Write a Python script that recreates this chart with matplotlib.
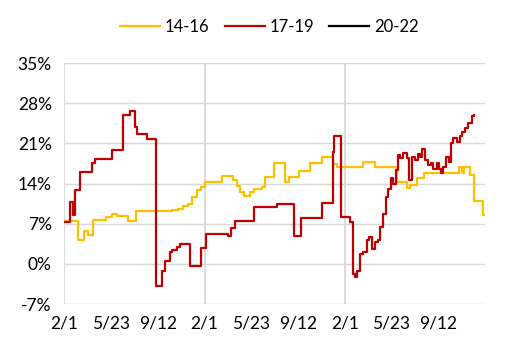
import numpy as np
import matplotlib
matplotlib.use("Agg")
import matplotlib.pyplot as plt

plt.rcParams['font.family'] = ['Lato', 'DejaVu Sans']

# trading-day index (252 per year) -> value (%), step changes
dias_1416 = [0, 25, 35, 42, 51, 75, 85, 94, 115, 129, 193, 205, 214, 223, 229, 238, 246,
             252, 283, 304, 310, 316, 322, 333, 340, 355, 361, 377, 397, 403, 421, 442,
             463, 482, 490, 537, 558, 598, 615, 621, 633, 647, 709, 715, 719, 729, 737,
             753, 755]
vals_1416 = [7.45, 4.1, 5.8, 5.0, 7.6, 8.2, 8.75, 8.35, 7.45, 9.15, 9.3, 9.6, 10.0, 10.5,
             11.7, 12.8, 13.4, 14.3, 15.3, 14.6, 13.6, 12.6, 11.8, 12.5, 13.1, 13.4, 15.05,
             17.6, 14.3, 15.05, 16.1, 17.6, 18.55, 17.4, 16.9, 17.7, 16.9, 14.3, 13.3, 13.8,
             14.9, 15.9, 16.8, 15.9, 16.8, 15.5, 11.0, 8.5, 8.5]

dias_1719 = [0, 10, 15, 19, 29, 49, 55, 85, 106, 118, 127, 131, 148, 164, 175, 181, 190,
             194, 203, 208, 226, 246, 254, 295, 299, 307, 340, 382, 412, 425, 463, 482,
             484, 497, 514, 518, 523, 526, 532, 537, 544, 548, 553, 558, 564, 567, 573,
             578, 582, 587, 591, 596, 599, 603, 609, 615, 620, 624, 630, 635, 639, 643,
             648, 654, 659, 663, 669, 674, 677, 681, 686, 691, 695, 699, 705, 711, 715,
             720, 726, 732, 737]
vals_1719 = [7.3, 10.8, 8.5, 12.8, 16.0, 17.5, 18.3, 19.8, 26.0, 26.7, 23.9, 22.6, 21.7,
             -3.8, -1.3, 0.5, 2.0, 2.5, 2.9, 3.4, -0.4, 2.8, 5.25, 4.8, 6.2, 7.4, 9.9, 10.5,
             4.8, 8.05, 10.6, 19.5, 22.2, 8.2, 7.3, -1.75, -2.3, -1.2, 1.75, 2.0, 4.1, 4.7,
             2.6, 3.8, 4.1, 6.4, 8.75, 11.7, 13.1, 14.9, 14.0, 16.3, 19.0, 18.4, 19.4, 18.4,
             14.7, 18.7, 18.1, 19.1, 18.7, 20.1, 18.1, 17.2, 17.5, 16.6, 17.5, 16.6, 15.75,
             16.9, 18.7, 17.8, 21.0, 21.9, 21.3, 22.2, 23.0, 23.6, 24.5, 25.8, 26.0]

# 20-22 has no data in the chart
dias_2022 = []
vals_2022 = []

tick_pos = [0, 84, 168, 252, 336, 420, 504, 588, 672]
tick_lab = ["2/1", "5/23", "9/12", "2/1", "5/23", "9/12", "2/1", "5/23", "9/12"]
y_ticks = [-7, 0, 7, 14, 21, 28, 35]

fig = plt.figure(figsize=(5.16, 3.48), dpi=100)
ax = fig.add_axes([0.1246, 0.1264, 0.8154, 0.6925])

gris = "#d9d9d9"
for y in y_ticks:
    ax.axhline(y, color=gris, lw=1, zorder=0)
for x in [0, 252, 504]:
    ax.axvline(x, color=gris, lw=1.3, zorder=0)

ax.plot(dias_1416, vals_1416, drawstyle="steps-post", color="#ffc000", lw=1.6, label="14-16")
ax.plot(dias_1719, vals_1719, drawstyle="steps-post", color="#c00000", lw=1.6, label="17-19")
ax.plot(dias_2022, vals_2022, color="black", lw=1.6, label="20-22")

ax.set_xlim(0, 756)
ax.set_ylim(-7, 35)
ax.set_yticks(y_ticks)
ax.set_yticklabels([f"{v}%" for v in y_ticks])
ax.set_xticks(tick_pos)
ax.set_xticklabels(tick_lab)
ax.tick_params(axis="both", length=0, labelsize=12.5, colors="black")
ax.tick_params(axis="y", pad=9)
ax.tick_params(axis="x", pad=8)
for s in ax.spines.values():
    s.set_visible(False)

fig.legend(loc="center", bbox_to_anchor=(0.522, 0.922), ncol=3, frameon=False,
           fontsize=12, handlelength=2.4, handletextpad=0.3, columnspacing=0.9)

fig.savefig("out.png", dpi=100)
